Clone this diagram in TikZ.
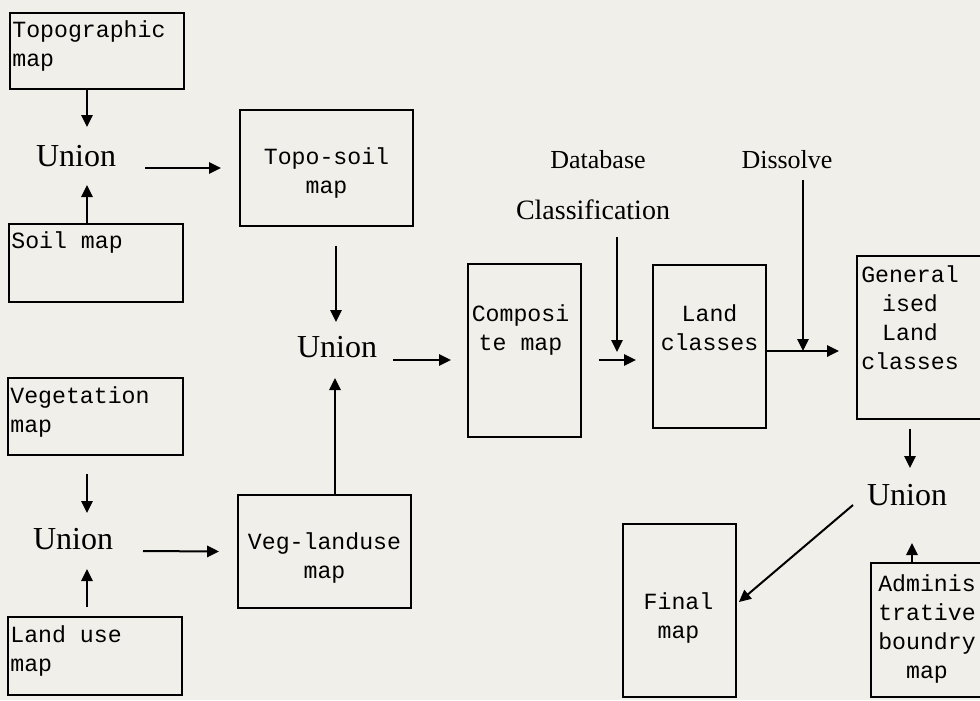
\documentclass[tikz,border=0pt]{standalone}
\usepackage{fontspec}
\setmainfont{Liberation Serif}
\setmonofont{Liberation Mono}
\usetikzlibrary{arrows.meta}
\usetikzlibrary{fit}
\definecolor{paper}{RGB}{241,239,233}
\tikzset{
    mapbox/.style = {rectangle, draw=black, line width=1.4pt, inner sep=0pt},
    maptext/.style = {inner sep=0pt, align=center, font=\ttfamily\fontsize{17.4}{21.8}\selectfont},
    maptextl/.style = {maptext, align=left, anchor=north west},
    maptextc/.style = {maptext, anchor=north},
    opnode/.style = {inner sep=0pt, font=\fontsize{24}{28}\selectfont},
    steplabel/.style = {inner sep=0pt, font=\fontsize{19.5}{23}\selectfont},
    flow/.style = {-{Triangle[length=9pt,width=8.5pt]}, line width=1.5pt}
}
\begin{document}
\begin{tikzpicture}[x=0.75pt, y=-0.75pt]
\fill[paper] (0,0) rectangle (980,700);
\useasboundingbox (0,0) rectangle (980,700);
% input maps
\node[mapbox, fit={(10,13) (184,89)}] (topo) {};
\node[maptextl] (topot) at ([shift={(3,8)}]topo.north west) {Topographic\\map};
\node[mapbox, fit={(9,224) (183,302)}] (soil) {};
\node[maptextl] (soilt) at ([shift={(3,8)}]soil.north west) {Soil map};
\node[mapbox, fit={(8,378) (183,455)}] (veg) {};
\node[maptextl] (vegt) at ([shift={(3,9)}]veg.north west) {Vegetation\\map};
\node[mapbox, fit={(8,617) (182,695)}] (landuse) {};
\node[maptextl] (landuset) at ([shift={(3,9)}]landuse.north west) {Land use\\map};
% intermediate maps
\node[mapbox, fit={(240,110) (413,226)}] (toposoil) {};
\node[maptextc] (toposoilt) at ([shift={(0,38)}]toposoil.north) {Topo-soil\\map};
\node[mapbox, fit={(238,495) (411,608)}] (veglu) {};
\node[maptextc] (veglut) at ([shift={(0,38)}]veglu.north) {Veg-landuse\\map};
\node[mapbox, fit={(468,264) (581,437)}] (comp) {};
\node[maptextc] (compt) at ([shift={(-4,41)}]comp.north) {Composi\\te map};
\node[mapbox, fit={(653,265) (766,428)}] (land) {};
\node[maptextc] (landt) at ([shift={(0,40)}]land.north) {Land\\classes};
\node[mapbox, fit={(857,256) (995,419)}] (gen) {};
\node[maptextc] (gent) at ([shift={(-16,10)}]gen.north) {General\\ised\\Land\\classes};
\node[mapbox, fit={(623,524) (736,697)}] (final) {};
\node[maptextc] (finalt) at ([shift={(-1,69)}]final.north) {Final\\map};
\node[mapbox, fit={(871,563) (995,697)}] (admin) {};
\node[maptextc] (admint) at ([shift={(-6,12)}]admin.north) {Adminis\\trative\\boundry\\map};
% operations
\node[opnode] (u1) at (76,156) {Union};
\node[opnode] (u2) at (337,347) {Union};
\node[opnode] (u3) at (73,539) {Union};
\node[opnode] (u4) at (907,495) {Union};
\node[steplabel] (db) at (598,160) {Database};
\node[steplabel, font=\fontsize{21}{25}\selectfont] (cls) at (593,210) {Classification};
\node[steplabel] (dis) at (787,160) {Dissolve};
% connectors
\draw[flow] ([shift={(-10,0)}]topo.south) -- ([shift={(11,-29)}]u1.center);
\draw[flow] ([shift={(-9,0)}]soil.north) -- ([shift={(11,29)}]u1.center);
\draw[flow] ([shift={(69,12)}]u1.center) -- ([shift={(-18,0)}]toposoil.west);
\draw[flow] ([shift={(9.5,19)}]toposoil.south) -- ([shift={(-1,-25)}]u2.center);
\draw[flow] ([shift={(10.5,0)}]veglu.north) -- ([shift={(-2,31)}]u2.center);
\draw[flow] ([shift={(56,13)}]u2.center) -- ([shift={(-16,9.5)}]comp.west);
\draw[flow] ([shift={(-8.5,18)}]veg.south) -- ([shift={(14,-26)}]u3.center);
\draw[flow] ([shift={(-8,-9)}]landuse.north) -- ([shift={(14,30)}]u3.center);
\draw[flow] ([shift={(70,12)}]u3.center) -- ([shift={(-18,0)}]veglu.west);
\draw[flow] ([shift={(17,9.5)}]comp.east) -- ([shift={(-16,13.5)}]land.west);
\draw[flow] ([shift={(24,27)}]cls.center) -- ([shift={(24,142)}]cls.center);
\draw[flow] ([shift={(0,4.5)}]land.east) -- ([shift={(-17,13.5)}]gen.west);
\draw[flow] ([shift={(16,20)}]dis.center) -- ([shift={(16,191)}]dis.center);
\draw[flow] ([shift={(-16,9)}]gen.south) -- ([shift={(3,-27)}]u4.center);
\draw[flow] ([shift={(-21,0)}]admin.north) -- ([shift={(5,48)}]u4.center);
\draw[flow] ([shift={(-54,10)}]u4.center) -- ([shift={(2,-8.5)}]final.east);
\end{tikzpicture}
\end{document}
